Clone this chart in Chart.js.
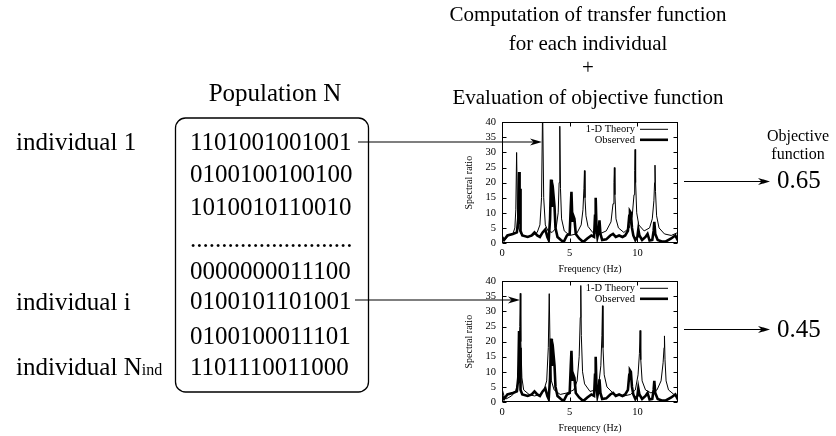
<!DOCTYPE html>
<html><head><meta charset="utf-8">
<script src="https://cdn.jsdelivr.net/npm/chart.js@4.4.1/dist/chart.umd.min.js"></script>
<style>
html,body{margin:0;padding:0;background:#fff;}
#wrap{position:relative;width:836px;height:436px;overflow:hidden;background:#fff;}
canvas{position:absolute;}
#ov{position:absolute;left:0;top:0;font-family:"Liberation Serif","Times New Roman",serif;}
</style></head><body>
<div id="wrap">
<canvas id="c1" width="225" height="167" style="left:459px;top:110px"></canvas>
<canvas id="c2" width="225" height="167" style="left:459px;top:269px"></canvas>
<svg id="ov" width="836" height="436" xmlns="http://www.w3.org/2000/svg"></svg>
</div>
<script>
// ---- data ----
const freqObserved = [0,0.15,0.4,0.8,1.1,1.2,1.26,1.3,1.33,1.37,1.5,1.9,2.2,2.4,2.6,2.8,3.0,3.2,3.35,3.45,3.55,3.62,3.68,3.75,3.8,3.88,3.95,4.1,4.35,4.55,4.8,5.0,5.08,5.13,5.2,5.27,5.35,5.45,5.7,6.0,6.3,6.6,6.8,6.87,6.92,6.98,7.05,7.15,7.2,7.27,7.4,7.7,8.0,8.2,8.4,8.65,8.9,9.1,9.3,9.4,9.45,9.52,9.6,9.7,9.85,10.0,10.07,10.15,10.35,10.6,10.75,10.9,11.1,11.2,11.25,11.32,11.5,11.8,12.1,12.5,12.8,13];
const ratioObserved = [2,1,2.5,3,3.5,8,23.5,10,18,4,2.5,2,2.5,3.5,2.5,2,3.5,4.5,2,1,8,21,12,14,16,12,5,2,1,0.3,2.5,3,12,17,7,9,8,3,1.5,0.3,1.5,2.5,2,9,15,5,2,4,7.5,3,1,1.2,2.5,3,2,2.5,2,2.5,4,9,10.5,10,5,2.5,1,2,4.5,2.5,1,2,3,0.8,1,4,7,3,1,0.5,0.5,1.5,2.5,0.8];

const freqTheory1 = [0,0.2,0.5,0.8,0.95,1.02,1.08,1.14,1.22,1.4,1.8,2.2,2.6,2.8,2.92,3.0,3.08,3.2,3.4,3.7,4.0,4.15,4.22,4.27,4.32,4.4,4.6,5.0,5.5,5.85,5.98,6.05,6.09,6.13,6.2,6.35,6.7,7.2,7.7,8.05,8.2,8.27,8.3,8.34,8.42,8.6,9.0,9.4,9.62,9.75,9.8,9.83,9.87,9.95,10.1,10.5,10.9,11.1,11.22,11.27,11.3,11.34,11.42,11.6,12.0,12.5,13];
const ratioTheory1 = [1.5,1,2.5,3,5,11,30,11,5,3,2,2.3,3.5,6,15,45,15,6,4,3.5,5,10,20,38.7,18,8,4,2.5,3,6,11,18,24,15,9,5.5,3.5,3,4,7,13,20,25,16,8,5,3.5,5,9,16,24,31,20,10,6,4,5,8,14,20,25.8,17,9,5,3,2.5,3.5];

const freqTheory2 = [0,0.15,0.3,0.7,1.0,1.15,1.25,1.31,1.35,1.39,1.47,1.6,2.0,2.4,2.8,3.1,3.3,3.42,3.49,3.55,3.65,3.85,4.3,4.8,5.3,5.55,5.7,5.78,5.82,5.86,5.95,6.1,6.5,6.9,7.15,7.3,7.38,7.42,7.46,7.55,7.75,8.3,9.0,9.5,9.85,10.05,10.15,10.2,10.25,10.35,10.6,11.0,11.45,11.75,11.9,11.97,12.0,12.04,12.12,12.3,12.7,13];
const ratioTheory2 = [4.5,2,1,2,3.5,6,15,25,36,20,8,4,2.5,2,2.5,4,7,18,35.9,18,7,4,2.5,3,4,7,15,28,38.6,22,10,6,3.5,4,6,12,22,31.9,18,9,5,2.5,2,2.5,4,9,16,23.7,14,7,4,3,4,7,13,18,21.9,14,7,4,2.5,2];

const xTickValues = [0,5,10];
const yTickValues = [0,5,10,15,20,25,30,35,40];
const seriesLabels = ['1-D Theory','Observed'];
const populationRows = ['1101001001001','0100100100100','1010010110010','..........................','0000000011100','0100101101001','0100100011101','1101110011000'];
const individualLabels = ['individual 1','individual i','individual N'];
const objectiveValues = ['0.65','0.45'];
const titleLines = ['Computation of transfer function','for each individual','+','Evaluation of objective function'];

// ---- charts ----
const FONT = '"Liberation Serif","Times New Roman",serif';
function pts(xs, ys){ return xs.map((x,i)=>({x:x,y:ys[i]})); }

const framePlugin = {
  id:'frame',
  afterDatasetsDraw(chart){
    const {ctx, chartArea:a, scales:{x,y}} = chart;
    ctx.save();
    ctx.strokeStyle='#000'; ctx.lineWidth=1;
    const L=Math.round(a.left)+0.5, R=Math.round(a.right)-0.5, T=Math.round(a.top)+0.5, B=Math.round(a.bottom)-0.5;
    ctx.strokeRect(L,T,R-L,B-T);
    ctx.beginPath();
    y.ticks.forEach(t=>{const py=Math.round(y.getPixelForValue(t.value))+0.5; ctx.moveTo(L,py); ctx.lineTo(L+4,py); ctx.moveTo(R,py); ctx.lineTo(R-4,py);});
    x.ticks.forEach(t=>{const px=Math.round(x.getPixelForValue(t.value))+0.5; ctx.moveTo(px,B); ctx.lineTo(px,B-4); ctx.moveTo(px,T); ctx.lineTo(px,T+4);});
    ctx.stroke();
    // key, top-right inside the plot
    ctx.font='10.5px '+FONT; ctx.fillStyle='#000'; ctx.textAlign='right'; ctx.textBaseline='middle';
    chart.data.datasets.forEach((ds,i)=>{
      const yy=a.top+7+i*10.5;
      ctx.fillText(ds.label, a.right-43, yy);
      ctx.beginPath(); ctx.lineWidth=ds.borderWidth; ctx.moveTo(a.right-38,yy); ctx.lineTo(a.right-10,yy); ctx.stroke();
    });
    ctx.restore();
  }
};

function makeChart(id, theoryF, theoryR){
  return new Chart(document.getElementById(id), {
    type:'line',
    data:{datasets:[
      {label:seriesLabels[0], data:pts(theoryF,theoryR), borderColor:'#000', borderWidth:1, pointRadius:0, tension:0, order:1},
      {label:seriesLabels[1], data:pts(freqObserved,ratioObserved), borderColor:'#000', borderWidth:2.6, pointRadius:0, tension:0, order:0}
    ]},
    options:{
      responsive:false, animation:false, devicePixelRatio:1,
      layout:{padding:{top:8,right:6,bottom:0,left:0}},
      plugins:{legend:{display:false}, tooltip:{enabled:false}},
      scales:{
        x:{type:'linear', min:0, max:13,
           afterBuildTicks(s){ s.ticks = xTickValues.map(v=>({value:v})); },
           ticks:{color:'#000', font:{family:FONT,size:10.5}, padding:4, maxRotation:0, autoSkip:false},
           grid:{display:false, drawTicks:false}, border:{display:false},
           title:{display:true, text:'Frequency (Hz)', color:'#000', font:{family:FONT,size:10}, padding:{top:0,bottom:2}},
           afterFit(s){s.height=34;}},
        y:{min:0, max:40,
           afterBuildTicks(s){ s.ticks = yTickValues.map(v=>({value:v})); },
           ticks:{color:'#000', font:{family:FONT,size:10.5}, padding:6, autoSkip:false},
           grid:{display:false, drawTicks:false}, border:{display:false},
           title:{display:true, text:'Spectral ratio', color:'#000', font:{family:FONT,size:10}, padding:{top:4,bottom:0}},
           afterFit(s){s.width=43;}}
      }
    },
    plugins:[framePlugin]
  });
}
makeChart('c1', freqTheory1, ratioTheory1);
makeChart('c2', freqTheory2, ratioTheory2);

// ---- diagram overlay (box, arrows, text) ----
const NS='http://www.w3.org/2000/svg';
const svg=document.getElementById('ov');
function el(tag, attrs, text){const e=document.createElementNS(NS,tag); for(const k in attrs)e.setAttribute(k,attrs[k]); if(text!==undefined)e.textContent=text; svg.appendChild(e); return e;}
function arrow(x1,y,x2){
  el('line',{x1:x1,y1:y,x2:x2-7,y2:y,stroke:'#000','stroke-width':1.2});
  el('path',{d:`M${x2},${y} L${x2-12},${y-3.6} L${x2-8.5},${y} L${x2-12},${y+3.6} Z`,fill:'#000'});
}
const titleBase=[21,50,74,104];
titleLines.forEach((t,i)=>el('text',{x:588,y:titleBase[i],'text-anchor':'middle','font-size':21,fill:'#000'},t));
el('text',{x:275,y:101,'text-anchor':'middle','font-size':25,fill:'#000'},'Population N');
el('rect',{x:175.5,y:118,width:193,height:274,rx:10,ry:10,fill:'none',stroke:'#000','stroke-width':1.3});
const rowBase=[150,182.3,214.5,246.5,279,309.3,344.3,374.5];
populationRows.forEach((r,i)=>el('text',{x:190,y:rowBase[i],'font-size':25,fill:'#000'},r));
el('text',{x:16,y:150,'font-size':25,fill:'#000'},individualLabels[0]);
el('text',{x:16,y:309.5,'font-size':25,fill:'#000'},individualLabels[1]);
const t3=el('text',{x:16,y:374.5,'font-size':25,fill:'#000'},individualLabels[2]);
const sub=document.createElementNS(NS,'tspan'); sub.setAttribute('font-size',16); sub.textContent='ind'; t3.appendChild(sub);
arrow(358,142,542);
arrow(355,300,520);
arrow(684,181.5,770);
arrow(684,329.5,770);
el('text',{x:798,y:140.7,'text-anchor':'middle','font-size':16,fill:'#000'},'Objective');
el('text',{x:798,y:159,'text-anchor':'middle','font-size':16,fill:'#000'},'function');
el('text',{x:777,y:188.3,'font-size':25,fill:'#000'},objectiveValues[0]);
el('text',{x:777,y:336.7,'font-size':25,fill:'#000'},objectiveValues[1]);
</script>
</body></html>
